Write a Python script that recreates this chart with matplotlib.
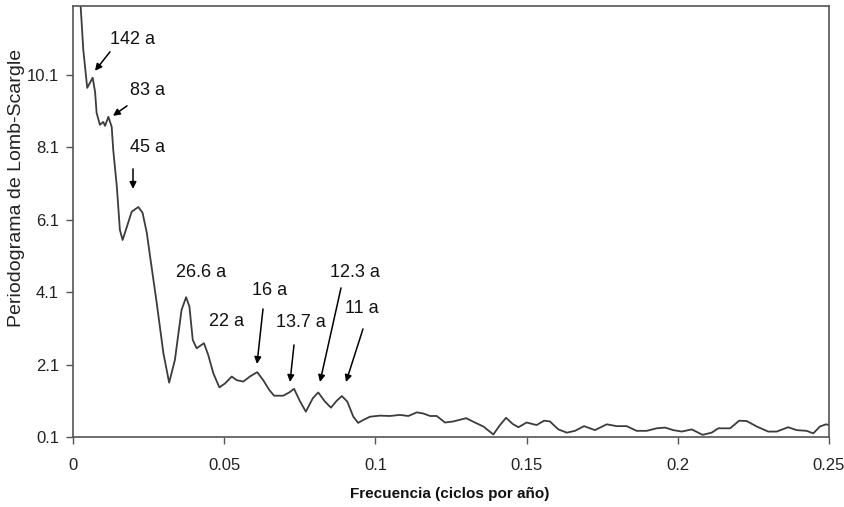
import matplotlib
matplotlib.use('Agg')
import matplotlib.pyplot as plt
import numpy as np

plt.rcParams['font.family'] = ['Liberation Sans', 'DejaVu Sans']

# frecuencia (ciclos por año) y periodograma
freq = [0.0, 0.0020, 0.0026, 0.0034, 0.0047, 0.0065, 0.0073, 0.0078, 0.0089, 0.0100,
        0.0106, 0.0117, 0.0128, 0.0133, 0.0145, 0.0155, 0.0164, 0.0178, 0.0194, 0.0216,
        0.0230, 0.0244, 0.0255, 0.0277, 0.0299, 0.0318, 0.0337, 0.0359, 0.0374, 0.0385,
        0.0396, 0.0409, 0.0433, 0.0447, 0.0464, 0.0484, 0.0503, 0.0525, 0.0541, 0.0563,
        0.0585, 0.0609, 0.0629, 0.0649, 0.0665, 0.0695, 0.0715, 0.0731, 0.0751, 0.0770,
        0.0793, 0.0811, 0.0833, 0.0853, 0.0872, 0.0889, 0.0907, 0.0927, 0.0943, 0.0960,
        0.0982, 0.1015, 0.1048, 0.1081, 0.1109, 0.1137, 0.1158, 0.1181, 0.1203, 0.1230,
        0.1258, 0.1300, 0.1329, 0.1357, 0.1390, 0.1412, 0.1432, 0.1454, 0.1473, 0.1500,
        0.1533, 0.1558, 0.1577, 0.1605, 0.1633, 0.1660, 0.1690, 0.1726, 0.1765, 0.1798,
        0.1831, 0.1864, 0.1897, 0.1930, 0.1958, 0.1985, 0.2013, 0.2046, 0.2082, 0.2112,
        0.2134, 0.2173, 0.2203, 0.2228, 0.2261, 0.2299, 0.2327, 0.2365, 0.2393, 0.2426,
        0.2448, 0.2470, 0.2490, 0.2501]
power = [16.0, 12.6, 11.9, 10.79, 9.74, 10.02, 9.63, 9.05, 8.72, 8.80,
         8.69, 8.94, 8.66, 8.03, 7.01, 5.82, 5.54, 5.90, 6.32, 6.45,
         6.29, 5.74, 5.08, 3.79, 2.41, 1.60, 2.23, 3.61, 3.96, 3.70,
         2.78, 2.55, 2.69, 2.37, 1.86, 1.47, 1.58, 1.77, 1.67, 1.63,
         1.77, 1.89, 1.67, 1.40, 1.24, 1.24, 1.33, 1.43, 1.08, 0.80,
         1.17, 1.33, 1.08, 0.91, 1.10, 1.23, 1.08, 0.66, 0.49, 0.57,
         0.66, 0.69, 0.68, 0.71, 0.68, 0.78, 0.75, 0.68, 0.68, 0.50,
         0.53, 0.62, 0.50, 0.39, 0.17, 0.43, 0.63, 0.46, 0.37, 0.50,
         0.43, 0.55, 0.53, 0.31, 0.22, 0.27, 0.40, 0.29, 0.45, 0.40,
         0.40, 0.27, 0.27, 0.34, 0.36, 0.29, 0.25, 0.31, 0.16, 0.22,
         0.34, 0.34, 0.55, 0.54, 0.39, 0.25, 0.25, 0.37, 0.29, 0.27,
         0.20, 0.39, 0.45, 0.43]

y_ticks = [0.1, 2.1, 4.1, 6.1, 8.1, 10.1]
x_ticks = [0, 0.05, 0.1, 0.15, 0.2, 0.25]
x_ticklabels = ['0', '0.05', '0.1', '0.15', '0.2', '0.25']

# etiquetas de periodos (años)
labels = ['142 a', '83 a', '45 a', '26.6 a', '22 a', '16 a', '13.7 a', '12.3 a', '11 a']

fig = plt.figure(figsize=(8.45, 5.07), dpi=100)
W, H = 845, 507
ax = fig.add_axes([73 / W, 1 - 437 / H, (829 - 73) / W, (437 - 6) / H])

ax.plot(freq, power, color='#3c3c3c', lw=1.3, solid_joinstyle='round')

ax.set_xlim(0, 0.25)
ax.set_ylim(0.1, 12.0)
ax.set_yticks(y_ticks)
ax.set_yticklabels([f'{v:.1f}' for v in y_ticks], fontsize=12, color='#222222')
ax.set_xticks(x_ticks)
ax.set_xticklabels(x_ticklabels, fontsize=12, color='#222222')
ax.tick_params(axis='both', direction='out', length=5, width=1, color='#555555')
ax.tick_params(axis='x', pad=10)
ax.tick_params(axis='y', pad=5)

for s in ax.spines.values():
    s.set_color('#555555')
    s.set_linewidth(1.2)

fig.text(450 / W, 1 - 494 / H, 'Frecuencia (ciclos por año)', ha='center', va='center',
         fontsize=11, fontweight='bold', color='#111111')
fig.text(17 / W, 1 - 188 / H, 'Periodograma de Lomb-Scargle', rotation=90,
         ha='center', va='center', fontsize=14, color='#222222')


def px2data(px, py):
    return ((px - 73) / 3024.0, 0.1 + (437 - py) / 36.2)


# (texto centro px, cola flecha px, punta flecha px)
ann = [
    ((133, 40), (110, 52), (95, 71)),
    ((148, 91), (127, 106), (113, 116)),
    ((148, 148), (133, 169), (133, 189)),
    ((201, 273), None, None),
    ((227, 322), None, None),
    ((270, 291), (263, 309), (257, 364)),
    ((301, 323), (294, 345), (290, 382)),
    ((355, 273), (341, 288), (320, 382)),
    ((362, 309), (363, 329), (346, 382)),
]

for lab, (tp, tail, head) in zip(labels, ann):
    ax.text(*px2data(*tp), lab, ha='center', va='center', fontsize=13, color='#111111')
    if tail is not None:
        ax.annotate('', xy=px2data(*head), xytext=px2data(*tail),
                    arrowprops=dict(arrowstyle='-|>', color='black', lw=1.1,
                                    mutation_scale=10, shrinkA=0, shrinkB=0))

fig.savefig('out.png', dpi=100, facecolor='white')
